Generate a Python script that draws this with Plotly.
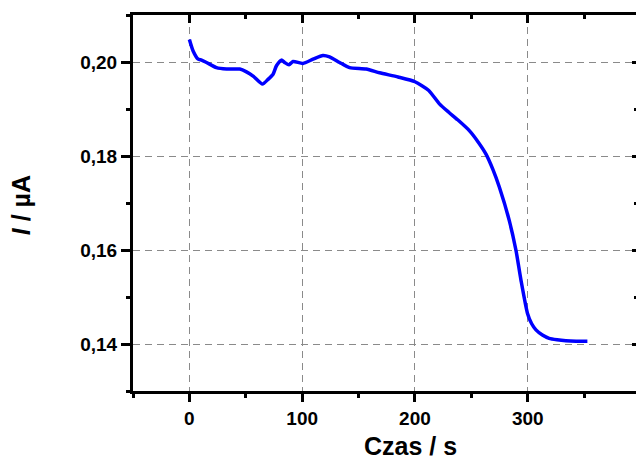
import plotly.graph_objects as go

time_s = [0, 3.4, 7.8, 10.8, 15.2, 24, 33, 44.7, 50.6, 56.5, 64.8, 69.7, 74.2, 77.2, 81.6,
          84.5, 88.3, 91.9, 100.7, 109.6, 118.4, 124.3, 133.2, 142, 156.8, 168.6, 185,
          200, 212, 221.7, 230, 237.9, 248.2, 256, 263, 269, 274.8, 283.6, 289.6, 294,
          299.8, 303.5, 307.3, 313, 319, 326, 333.8, 343, 352.9]
current_uA = [0.2048, 0.2023, 0.2006, 0.2004, 0.1999, 0.1988, 0.1985, 0.1985, 0.1979,
              0.1970, 0.1953, 0.1963, 0.1974, 0.1992, 0.2004, 0.1999, 0.1994, 0.2001,
              0.1997, 0.2006, 0.2014, 0.2011, 0.1999, 0.1988, 0.1985, 0.1977, 0.1968,
              0.1958, 0.1940, 0.1911, 0.1893, 0.1877, 0.1854, 0.1830, 0.1804, 0.1772,
              0.1734, 0.1663, 0.1599, 0.1536, 0.1465, 0.1443, 0.1430, 0.1419, 0.1412,
              0.1409, 0.1407, 0.1406, 0.1406]

x_range = [-50, 396]
y_range = [0.13, 0.21]
x_ticks = [0, 100, 200, 300]
y_ticks = [0.14, 0.16, 0.18, 0.20]

FONT = "Liberation Sans, Arial, sans-serif"
grid = dict(showgrid=True, gridcolor="#8a8a8a", gridwidth=1.3, griddash="7px,5px")

fig = go.Figure()
fig.add_trace(go.Scatter(x=time_s, y=current_uA, mode="lines",
                         line=dict(color="#0000ff", width=3.5, shape="spline", smoothing=0.6),
                         showlegend=False, hoverinfo="skip"))
# invisible trace for mirror axes
fig.add_trace(go.Scatter(x=[None], y=[None], xaxis="x2", yaxis="y2", showlegend=False))

fig.update_layout(
    width=636, height=460,
    margin=dict(l=133, r=0, t=15, b=69),
    plot_bgcolor="white", paper_bgcolor="white",
    separators=", ",
    font=dict(family=FONT, color="black"),
    xaxis=dict(range=x_range, tickvals=x_ticks, ticks="outside", ticklen=8, tickwidth=3,
               tickcolor="black", showline=True, linewidth=3, linecolor="black",
               zeroline=False, tickfont=dict(size=19, family=FONT, weight="bold"),
               minor=dict(dtick=50, tick0=0, ticks="outside", ticklen=4, tickwidth=3,
                          tickcolor="black", showgrid=False),
               **grid),
    yaxis=dict(range=y_range, tickvals=y_ticks, tickformat=".2f", ticks="outside",
               ticklen=9, tickwidth=3, tickcolor="black", showline=True, linewidth=3,
               linecolor="black", zeroline=False,
               tickfont=dict(size=19, family=FONT, weight="bold"),
               minor=dict(dtick=0.01, tick0=0.13, ticks="outside", ticklen=4, tickwidth=3,
                          tickcolor="black", showgrid=False),
               **grid),
    xaxis2=dict(range=x_range, overlaying="x", side="top", tickvals=x_ticks,
                ticks="inside", ticklen=8, tickwidth=3, tickcolor="black",
                showline=True, linewidth=3, linecolor="black", showticklabels=False,
                showgrid=False, zeroline=False,
                minor=dict(dtick=50, tick0=0, ticks="inside", ticklen=4, tickwidth=3,
                           tickcolor="black")),
    yaxis2=dict(range=y_range, overlaying="y", side="right", tickvals=y_ticks,
                ticks="inside", ticklen=4, tickwidth=3, tickcolor="black",
                showline=False, showticklabels=False, showgrid=False, zeroline=False,
                minor=dict(dtick=0.01, tick0=0.13, ticks="inside", ticklen=2, tickwidth=3,
                           tickcolor="black")),
    annotations=[
        dict(text="<b>Czas / s</b>", xref="paper", yref="paper", x=0.551, y=-0.146,
             xanchor="center", yanchor="middle", showarrow=False,
             font=dict(size=25, family=FONT, color="black")),
        dict(text="<b><i>I</i> / µA</b>", xref="paper", yref="paper", x=-0.222, y=0.495,
             xanchor="center", yanchor="middle", showarrow=False, textangle=-90,
             font=dict(size=25, family=FONT, color="black")),
    ],
)

fig.write_html("out.html", config={"displayModeBar": False},
               post_script="document.body.style.margin='0px';document.body.style.overflow='hidden';")
